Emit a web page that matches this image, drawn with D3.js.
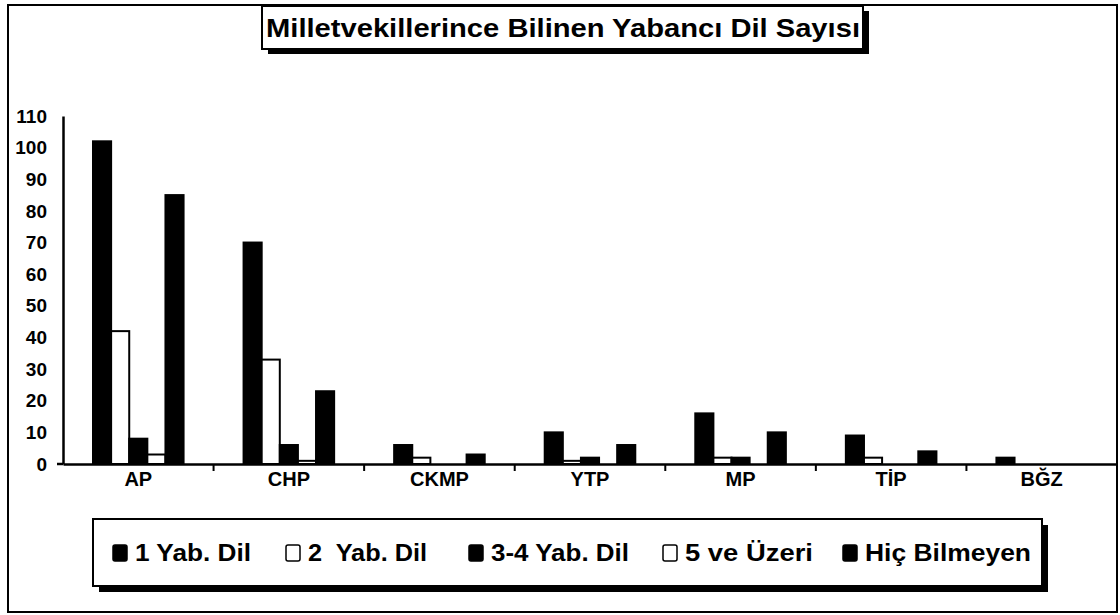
<!DOCTYPE html>
<html>

<head>
    <meta charset="utf-8">
    <style>
        body {
            margin: 0;
            background: #fff;
        }

        svg {
            display: block;
            font-family: "Liberation Sans", Arial, Helvetica, sans-serif;
            font-weight: bold;
        }

        .y .domain,
        .x .domain {
            stroke: #000;
            stroke-width: 2.5px;
        }

        .y .tick text {
            font-size: 19px;
            fill: #000;
        }

        .x .tick text {
            font-size: 20px;
            fill: #000;
        }
    </style>
</head>

<body>
    <svg width="1120" height="615"></svg>

    <script src="https://cdn.jsdelivr.net/npm/d3@7"></script>
    <script>
        // parties on the x axis
        let parties = ["AP", "CHP", "CKMP", "YTP", "MP", "TİP", "BĞZ"]

        // one list per series, in party order
        let series = ["1 Yab. Dil", "2  Yab. Dil", "3-4 Yab. Dil", "5 ve Üzeri", "Hiç Bilmeyen"]
        let birYabDil = [102, 70, 6, 10, 16, 9, 2]
        let ikiYabDil = [42, 33, 2, 1, 2, 2, 0]
        let ucDortYabDil = [8, 6, 0, 2, 2, 0, 0]
        let besVeUzeri = [3, 1, 0, 0, 0, 0, 0]
        let hicBilmeyen = [85, 23, 3, 6, 10, 4, 0]

        let yTicks = [0, 10, 20, 30, 40, 50, 60, 70, 80, 90, 100, 110]

        let title = "Milletvekillerince Bilinen Yabancı Dil Sayısı"

        let seriesValues = [birYabDil, ikiYabDil, ucDortYabDil, besVeUzeri, hicBilmeyen]
        let seriesFill = ["#000", "#fff", "#000", "#fff", "#000"]

        let svg = d3.select("svg")

        let margin = { top: 116, right: 3, bottom: 151, left: 63 }
        let width = 1120
        let height = 615

        // outer frame
        svg.append("rect")
            .attr("x", 8).attr("y", 5)
            .attr("width", 1109).attr("height", 607)
            .attr("fill", "none")
            .attr("stroke", "#000")
            .attr("stroke-width", 2)

        let x = d3.scaleBand()
            .domain(parties)
            .range([margin.left, width - margin.right])
            .padding(0)

        let x1 = d3.scaleBand()
            .domain(d3.range(series.length))
            .range([30, x.bandwidth() - 30])
            .padding(0)

        let y = d3.scaleLinear()
            .domain([0, 110])
            .range([height - margin.bottom, margin.top])

        // bars
        let rows = parties.map((p, i) => ({ party: p, values: seriesValues.map(s => s[i]) }))

        let groups = svg.append("g")
            .attr("class", "bars")
            .selectAll("g")
            .data(rows)
            .join("g")
            .attr("transform", d => `translate(${x(d.party)},0)`)

        groups.selectAll("rect")
            .data(d => d.values.map((v, k) => ({ k: k, v: v })).filter(e => e.v > 0))
            .join("rect")
            .attr("x", d => x1(d.k))
            .attr("width", x1.bandwidth())
            .attr("y", d => y(d.v))
            .attr("height", d => y(0) - y(d.v))
            .attr("fill", d => seriesFill[d.k])
            .attr("stroke", "#000")
            .attr("stroke-width", 2)

        // y axis
        let yAxisSettings = d3.axisLeft(y)
            .tickValues(yTicks)
            .tickSize(0)
            .tickPadding(16)

        svg.append("g")
            .attr("class", "y axis")
            .attr("transform", `translate(${margin.left},0)`)
            .call(yAxisSettings)

        // x axis (labels only, boundary ticks drawn below)
        let xAxisSettings = d3.axisBottom(x)
            .tickSize(0)
            .tickPadding(8)
            .tickSizeOuter(0)

        svg.append("g")
            .attr("class", "x axis")
            .attr("transform", `translate(0,${y(0)})`)
            .call(xAxisSettings)

        svg.append("g")
            .selectAll("line")
            .data(parties.slice(1))
            .join("line")
            .attr("x1", d => x(d)).attr("x2", d => x(d))
            .attr("y1", y(0)).attr("y2", y(0) + 7)
            .attr("stroke", "#000")
            .attr("stroke-width", 2)

        svg.append("line")
            .attr("x1", margin.left - 6).attr("x2", margin.left)
            .attr("y1", y(0)).attr("y2", y(0))
            .attr("stroke", "#000")
            .attr("stroke-width", 2.5)

        // title box with shadow
        svg.append("rect")
            .attr("x", 268).attr("y", 11)
            .attr("width", 601).attr("height", 43)
            .attr("fill", "#000")
        svg.append("rect")
            .attr("x", 262).attr("y", 6)
            .attr("width", 601).attr("height", 43)
            .attr("fill", "#fff")
            .attr("stroke", "#000")
            .attr("stroke-width", 2)
        svg.append("text")
            .attr("x", 266).attr("y", 37)
            .attr("font-size", 25)
            .attr("textLength", 594)
            .attr("lengthAdjust", "spacingAndGlyphs")
            .text(title)

        // legend box with shadow
        svg.append("rect")
            .attr("x", 99).attr("y", 525)
            .attr("width", 949).attr("height", 67)
            .attr("fill", "#000")
        svg.append("rect")
            .attr("x", 93).attr("y", 519)
            .attr("width", 949).attr("height", 67)
            .attr("fill", "#fff")
            .attr("stroke", "#000")
            .attr("stroke-width", 2)

        let legendX = [113, 286, 469, 663, 843]
        let legendW = [116, 119, 138, 128, 166]

        let legend = svg.append("g")
            .selectAll("g")
            .data(series)
            .join("g")
            .attr("transform", (d, i) => `translate(${legendX[i]},0)`)

        legend.append("rect")
            .attr("x", 0).attr("y", 545)
            .attr("width", 14).attr("height", 16)
            .attr("rx", 2)
            .attr("fill", (d, i) => seriesFill[i])
            .attr("stroke", "#000")
            .attr("stroke-width", 1.5)

        legend.append("text")
            .attr("x", 22).attr("y", 561)
            .attr("font-size", 23)
            .attr("textLength", (d, i) => legendW[i])
            .attr("lengthAdjust", "spacingAndGlyphs")
            .style("white-space", "pre")
            .text(d => d)
    </script>
</body>

</html>
